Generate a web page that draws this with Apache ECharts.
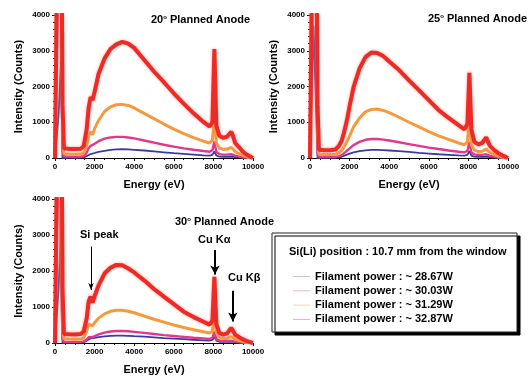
<!DOCTYPE html>
<html>
<head>
<meta charset="utf-8">
<script src="https://cdn.jsdelivr.net/npm/echarts@6/dist/echarts.min.js"></script>
<style>
  html, body { margin: 0; padding: 0; background: #fff; }
  #chart { width: 528px; height: 381px; }
</style>
</head>
<body>
<div id="chart"></div>
<script>
// energy grid (eV) shared by every spectrum
const energy = [0,100,180,300,380,450,700,1000,1300,1450,1600,1700,1800,1900,2000,2200,2500,2800,3100,3400,3700,4000,4500,5000,5500,6000,6500,7000,7500,7800,7950,8050,8150,8300,8500,8700,8900,9000,9100,9300,9500,9700,9900,10000];

// 20 deg anode
const a20Blue   = [0,0,1200,2700,0,5,10,10,12,20,50,85,110,115,140,170,200,225,240,245,240,230,210,185,160,135,115,95,75,68,90,185,70,40,35,35,42,35,25,15,8,3,1,0];
const a20Pink   = [0,0,6000,5000,200,40,35,30,35,50,150,280,340,320,400,470,540,575,590,590,575,550,490,430,370,320,270,230,195,175,220,460,170,110,95,95,110,90,65,40,22,10,3,0];
const a20Orange = [0,0,9000,9000,800,120,110,105,110,140,330,620,730,650,820,1050,1300,1430,1490,1500,1470,1400,1250,1100,950,810,680,570,470,420,500,1150,420,280,240,250,300,250,180,120,70,35,10,0];
const a20Red    = [0,0,9000,9000,1500,270,255,250,260,330,800,1400,1700,1620,1850,2350,2780,3050,3180,3250,3200,3080,2750,2420,2120,1810,1520,1250,1010,880,1000,3050,900,620,560,600,730,600,420,300,170,90,30,0];

// 25 deg anode
const a25Blue   = [0,0,3700,1500,0,5,8,8,10,18,35,55,80,100,120,160,195,215,225,225,220,210,190,170,145,125,105,90,72,65,85,195,65,38,32,33,40,33,24,14,7,3,1,0];
const a25Pink   = [0,0,6000,5000,150,30,25,25,30,45,80,120,170,220,270,360,450,510,530,530,515,490,440,390,340,290,250,210,175,160,200,450,160,100,85,88,105,85,60,38,20,9,3,0];
const a25Orange = [0,0,9000,9000,700,105,100,95,105,140,210,290,390,500,620,870,1120,1290,1360,1370,1330,1270,1140,1000,870,740,620,520,420,370,450,1160,370,220,180,190,250,190,140,90,55,25,8,0];
const a25Red    = [0,0,9000,9000,1500,230,220,215,240,330,480,680,900,1150,1450,1980,2500,2820,2950,2940,2850,2700,2460,2170,1900,1620,1340,1120,920,800,950,2380,800,450,380,420,580,440,330,220,140,75,25,0];

// 30 deg anode
const a30Blue   = [0,0,1500,3200,0,5,8,8,10,20,60,110,130,125,145,165,185,200,205,205,200,190,175,155,135,120,105,90,75,68,85,175,65,35,30,30,38,30,22,13,7,3,1,0];
const a30Pink   = [0,0,6000,2000,100,30,28,28,30,45,100,160,180,165,200,240,290,320,335,335,325,310,280,250,220,195,170,145,125,112,140,315,110,65,55,55,65,55,40,25,14,6,2,0];
const a30Orange = [0,0,9000,3000,500,115,110,105,110,140,330,520,570,480,560,690,810,880,910,910,880,840,750,660,580,500,430,370,310,280,330,820,280,150,125,135,180,140,100,65,38,18,5,0];
const a30Red    = [0,0,9000,9000,1500,250,240,235,250,320,680,1150,1290,1120,1300,1600,1930,2090,2170,2160,2070,1960,1740,1500,1290,1080,870,720,590,510,620,1840,520,280,230,270,420,330,230,160,100,50,15,0];

const powers = ['Filament power : ~ 28.67W', 'Filament power : ~ 30.03W', 'Filament power : ~ 31.29W', 'Filament power : ~ 32.87W'];

const FONT = 'Liberation Sans, Arial, sans-serif';
const colors = ['#3a3aa6', '#e5368e', '#f7993a', '#ee2a26'];
const widths = [1.8, 2.4, 3, 4];
const legendColors = ['#c2c2ea', '#f5b4cf', '#fbd3a4', '#f7ad9c'];

const myChart = echarts.init(document.getElementById('chart'));

const grids = [
  {left: 55, top: 15, width: 198, height: 143},
  {left: 310, top: 15, width: 198, height: 143},
  {left: 55, top: 199, width: 198, height: 144}
];

function xAx(i) {
  return {
    type: 'value', gridIndex: i, min: 0, max: 10000, interval: 2000,
    name: 'Energy (eV)', nameLocation: 'middle', nameGap: 21,
    nameTextStyle: {fontFamily: FONT, fontWeight: 'bold', fontSize: 11, color: '#000'},
    axisLine: {lineStyle: {color: '#000', width: 1.2}},
    axisTick: {inside: false, length: 3, lineStyle: {color: '#000'}},
    minorTick: {show: true, splitNumber: 4, length: 2, lineStyle: {color: '#000'}},
    axisLabel: {fontFamily: FONT, fontWeight: 'bold', fontSize: 8, color: '#000', margin: 5, formatter: v => String(v)},
    splitLine: {show: false}
  };
}
function yAx(i) {
  return {
    type: 'value', gridIndex: i, min: 0, max: 4000, interval: 1000,
    name: 'Intensity (Counts)', nameLocation: 'middle', nameGap: 31,
    nameTextStyle: {fontFamily: FONT, fontWeight: 'bold', fontSize: 11, color: '#000'},
    axisLine: {show: true, lineStyle: {color: '#000', width: 1.2}},
    axisTick: {show: true, inside: false, length: 3, lineStyle: {color: '#000'}},
    minorTick: {show: true, splitNumber: 5, length: 2, lineStyle: {color: '#000'}},
    axisLabel: {fontFamily: FONT, fontWeight: 'bold', fontSize: 8, color: '#000', margin: 5, formatter: v => String(v)},
    splitLine: {show: false}
  };
}

function mk(i, k, vals) {
  const red = k === 3;
  return {
    name: powers[k], type: 'line', xAxisIndex: i, yAxisIndex: i,
    data: energy.map((e, j) => [e, vals[j]]),
    symbol: 'none', clip: true, animation: false,
    color: colors[k],
    lineStyle: {
      color: colors[k], width: widths[k],
      shadowColor: red ? 'rgba(245,130,115,0.8)' : 'rgba(0,0,0,0)',
      shadowBlur: red ? 3 : 0
    }
  };
}

const panels = [
  [a20Blue, a20Pink, a20Orange, a20Red],
  [a25Blue, a25Pink, a25Orange, a25Red],
  [a30Blue, a30Pink, a30Orange, a30Red]
];
const series = [];
panels.forEach((p, i) => p.forEach((vals, k) => series.push(mk(i, k, vals))));

// arrows for the 30 deg panel
series[11].markLine = {
  silent: true, animation: false, label: {show: false},
  symbol: ['none', 'arrow'],
  lineStyle: {color: '#000', type: 'solid', width: 1},
  data: [
    [{coord: [1820, 2680], symbol: 'none', lineStyle: {width: 1}}, {coord: [1820, 1470], symbol: 'arrow', symbolSize: [4, 7]}],
    [{coord: [8080, 2580], symbol: 'none', lineStyle: {width: 2}}, {coord: [8080, 1900], symbol: 'arrow', symbolSize: [7, 9]}],
    [{coord: [8980, 1450], symbol: 'none', lineStyle: {width: 2}}, {coord: [8980, 600], symbol: 'arrow', symbolSize: [7, 9]}]
  ]
};

function titleText(x, y, deg) {
  return {
    type: 'text', left: x, top: y,
    style: {
      text: '{n|' + deg + '}{s|o}{n| Planned Anode}',
      rich: {
        n: {fontFamily: FONT, fontWeight: 'bold', fontSize: 11, fill: '#000'},
        s: {fontFamily: FONT, fontWeight: 'bold', fontSize: 6, fill: '#000', verticalAlign: 'top', padding: [0, 0, 6, 0]}
      }
    }
  };
}
function plain(x, y, txt) {
  return {type: 'text', left: x, top: y, style: {text: txt, fontFamily: FONT, fontWeight: 'bold', fontSize: 11, fill: '#000'}};
}

myChart.setOption({
  backgroundColor: '#fff',
  animation: false,
  grid: grids,
  xAxis: [xAx(0), xAx(1), xAx(2)],
  yAxis: [yAx(0), yAx(1), yAx(2)],
  legend: {
    orient: 'vertical', left: 288, top: 265, itemWidth: 17, itemHeight: 1, itemGap: 1.3,
    icon: 'rect', selectedMode: false,
    textStyle: {fontFamily: FONT, fontWeight: 'bold', fontSize: 11, color: '#000', lineHeight: 13},
    data: powers.map((n, k) => ({name: n, itemStyle: {color: legendColors[k], borderWidth: 0}}))
  },
  graphic: [
    {type: 'rect', shape: {x: 272, y: 233, width: 245, height: 99}, z: -1,
     style: {fill: '#fff', stroke: '#222', lineWidth: 1, shadowColor: '#000', shadowOffsetX: 3, shadowOffsetY: 3, shadowBlur: 0}},
    plain(289, 246, 'Si(Li) position : 10.7 mm from the window'),
    titleText(151, 14, '20'),
    titleText(428, 13, '25'),
    titleText(175, 216, '30'),
    plain(80, 229, 'Si peak'),
    plain(198, 234, 'Cu K\u03b1'),
    plain(228, 272, 'Cu K\u03b2')
  ],
  series: series
});
</script>
</body>
</html>
